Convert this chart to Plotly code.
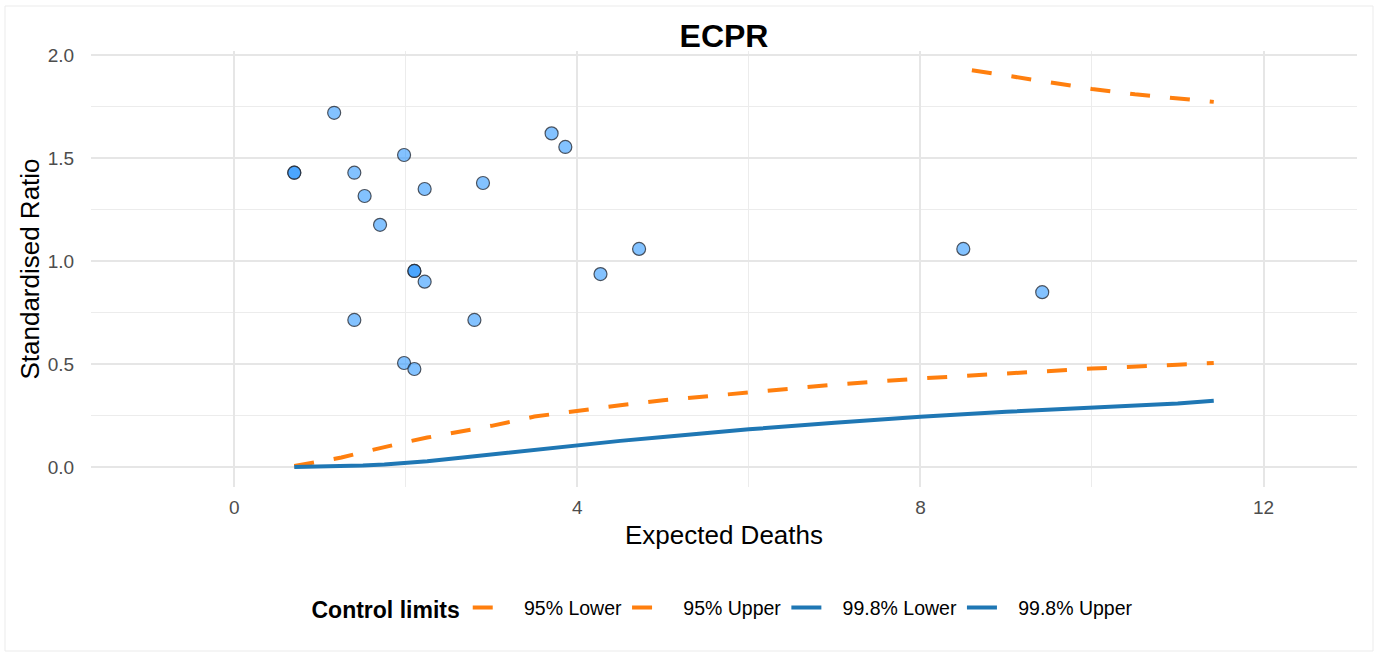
import plotly.graph_objects as go

# Unit-level results: expected deaths and standardised (observed/expected) ratio
expected = [1.165, 0.70, 0.70, 1.40, 1.52, 1.70, 1.98, 2.22, 2.90, 3.70, 3.86,
            2.10, 2.10, 2.22, 1.40, 2.80, 1.98, 2.10, 4.27, 4.72, 8.50, 9.42]
ratio = [1.72, 1.429, 1.429, 1.429, 1.316, 1.176, 1.515, 1.35, 1.379, 1.62, 1.554,
         0.952, 0.952, 0.90, 0.714, 0.714, 0.505, 0.476, 0.937, 1.059, 1.059, 0.849]

# Control limit curves
limit_x = [0.7, 1.0, 1.25, 1.5, 1.75, 2.0, 2.25, 2.5, 3.0, 3.5, 4.0, 4.5, 5.0, 6.0,
           7.0, 8.0, 9.0, 10.0, 11.0, 11.42]
lower_998 = [0.0, 0.001, 0.003, 0.007, 0.012, 0.019, 0.028, 0.039, 0.062, 0.085,
             0.106, 0.127, 0.146, 0.183, 0.215, 0.244, 0.268, 0.288, 0.309, 0.322]
lower_95 = [0.005, 0.025, 0.046, 0.072, 0.098, 0.121, 0.143, 0.163, 0.20, 0.245,
            0.274, 0.30, 0.324, 0.364, 0.40, 0.43, 0.456, 0.478, 0.497, 0.505]
upper_95_x = [8.6, 9.0, 9.5, 10.0, 10.5, 11.0, 11.42]
upper_95 = [1.927, 1.90, 1.866, 1.836, 1.81, 1.79, 1.773]
# 99.8% upper limit lies entirely above the displayed range
upper_998_x = [None]
upper_998 = [None]

target = 1.0
x_ticks = [0, 4, 8, 12]
y_ticks = [0.0, 0.5, 1.0, 1.5, 2.0]

ORANGE = "#ff7f0e"
BLUE = "#1f77b4"
FONT = "Liberation Sans, Arial, Helvetica, sans-serif"
PAD = "\u00a0\u00a0\u00a0"

fig = go.Figure()

fig.add_trace(go.Scatter(x=limit_x, y=lower_95, mode="lines", name=PAD + "95% Lower",
                         line=dict(color=ORANGE, width=4, dash="20px,20px")))
fig.add_trace(go.Scatter(x=upper_95_x, y=upper_95, mode="lines", name=PAD + "95% Upper",
                         line=dict(color=ORANGE, width=4, dash="20px,20px")))
fig.add_trace(go.Scatter(x=limit_x, y=lower_998, mode="lines", name=PAD + "99.8% Lower",
                         line=dict(color=BLUE, width=4)))
fig.add_trace(go.Scatter(x=upper_998_x, y=upper_998, mode="lines", name=PAD + "99.8% Upper",
                         line=dict(color=BLUE, width=4)))

fig.add_trace(go.Scatter(
    x=expected, y=ratio, mode="markers", showlegend=False,
    marker=dict(size=13, color="rgba(30,144,255,0.55)",
                line=dict(color="rgba(40,45,55,0.8)", width=1.2)),
))

fig.add_hline(y=target, line=dict(color="#5aabc4", width=2, dash="10px,9px"), layer="below")

W, H = 1384, 652
L, R, T, B = 91, 27, 51, 165
pw, ph = W - L - R, H - T - B

def px_to_paper_x(px):
    return (px - L) / pw

def px_to_paper_y(py):
    return (H - B - py) / ph

fig.add_shape(type="rect", xref="paper", yref="paper",
              x0=px_to_paper_x(5), x1=px_to_paper_x(1373),
              y0=px_to_paper_y(651), y1=px_to_paper_y(6),
              line=dict(color="#ebebeb", width=1), fillcolor="rgba(0,0,0,0)", layer="below")

fig.update_layout(
    width=W, height=H,
    margin=dict(l=L, r=R, t=T, b=B, autoexpand=False),
    paper_bgcolor="white", plot_bgcolor="white",
    font=dict(family=FONT, color="black"),
    title=dict(text="<b>ECPR</b>", x=0.5, xref="paper", xanchor="center",
               y=1 - 36 / H, yanchor="middle", font=dict(size=32, color="black")),
    showlegend=True,
    legend=dict(orientation="h", x=0.5, xanchor="center", y=-0.278, yanchor="middle",
                title=dict(text="<b>Control limits</b>", side="left",
                           font=dict(size=23, color="black")),
                font=dict(size=19.5, color="black"), itemwidth=30),
    xaxis=dict(range=[-1.67, 13.09], tickvals=x_ticks, ticktext=[str(v) for v in x_ticks],
               showgrid=True, gridcolor="#e6e6e6", gridwidth=2, zeroline=False,
               showline=False, ticks="outside", ticklen=3, tickcolor="rgba(0,0,0,0)",
               tickfont=dict(size=19, color="#4d4d4d"),
               minor=dict(tickvals=[2, 6, 10], showgrid=True, gridcolor="#ececec", gridwidth=1.2),
               title=dict(text="Expected Deaths", font=dict(size=26, color="black"), standoff=9)),
    yaxis=dict(range=[-0.097, 2.02], tickvals=y_ticks, ticktext=[f"{v:.1f}" for v in y_ticks],
               showgrid=True, gridcolor="#e6e6e6", gridwidth=2, zeroline=False,
               showline=False, ticks="outside", ticklen=12, tickcolor="rgba(0,0,0,0)",
               tickfont=dict(size=19, color="#4d4d4d"),
               minor=dict(tickvals=[0.25, 0.75, 1.25, 1.75], showgrid=True,
                          gridcolor="#ececec", gridwidth=1.2),
               title=dict(text="Standardised Ratio", font=dict(size=26, color="black"), standoff=0)),
)

fig.write_html("out.html")
